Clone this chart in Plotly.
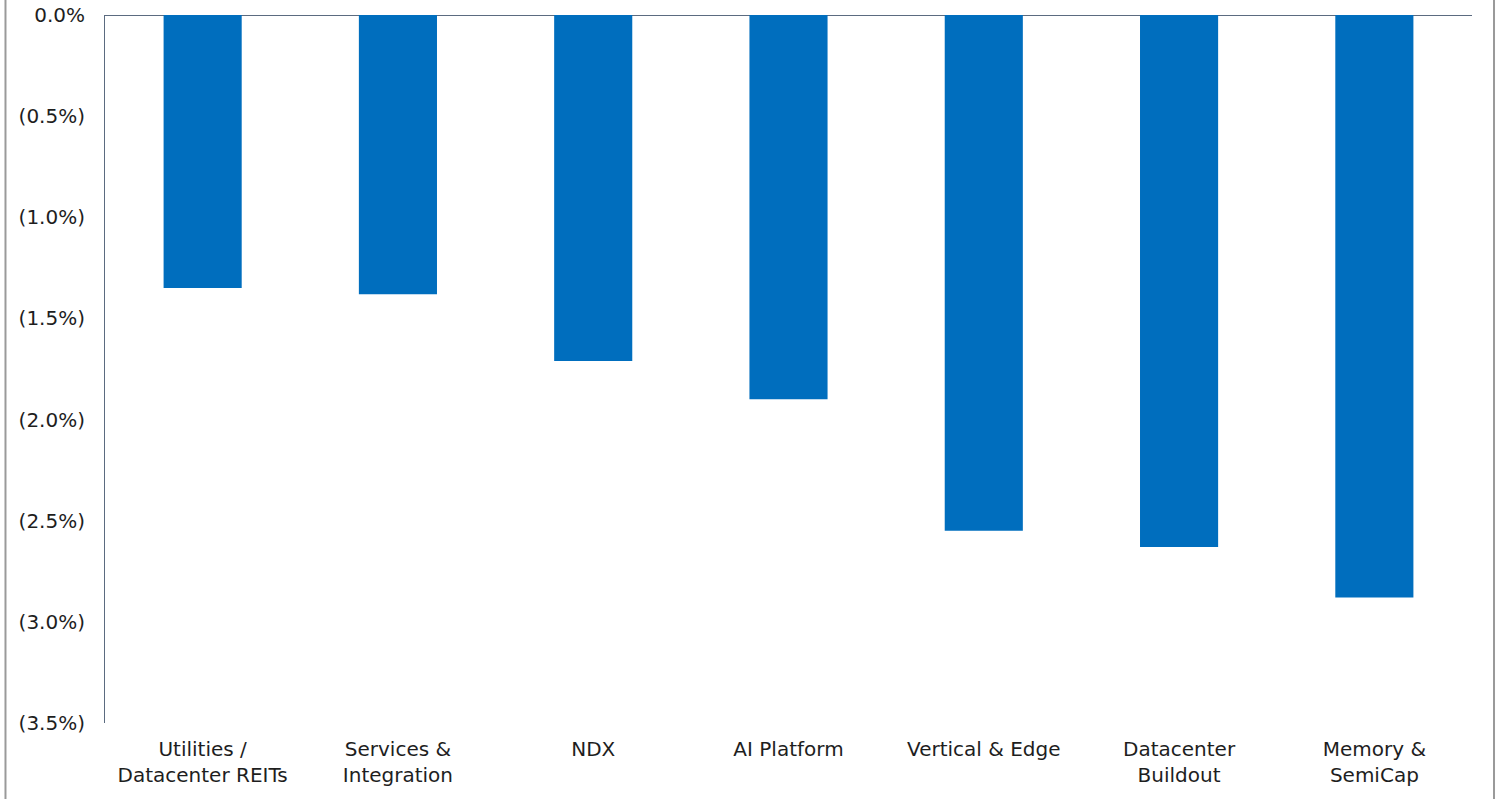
import plotly.graph_objects as go

# Categories and their returns (in percent)
categories = [
    "Utilities /<br>Datacenter REITs",
    "Services &<br>Integration",
    "NDX",
    "AI Platform",
    "Vertical & Edge",
    "Datacenter<br>Buildout",
    "Memory &<br>SemiCap",
]
returns_pct = [-1.35, -1.38, -1.71, -1.90, -2.55, -2.63, -2.88]

# Y-axis ticks, losses shown in parentheses
tick_values = [0.0, -0.5, -1.0, -1.5, -2.0, -2.5, -3.0, -3.5]
tick_labels = ["0.0%", "(0.5%)", "(1.0%)", "(1.5%)", "(2.0%)", "(2.5%)", "(3.0%)", "(3.5%)"]

BAR_COLOR = "#006EBE"
AXIS_COLOR = "#5B6B80"
TEXT_COLOR = "#1e1e1e"
FONT = "DejaVu Sans, sans-serif"
FONT_SIZE = 20

fig = go.Figure(
    go.Bar(
        x=categories,
        y=returns_pct,
        marker=dict(color=BAR_COLOR, line=dict(width=0)),
        hoverinfo="x+y",
    )
)

fig.update_layout(
    width=1499,
    height=799,
    margin=dict(l=105, r=27, t=15, b=76, autoexpand=False),
    paper_bgcolor="white",
    plot_bgcolor="white",
    bargap=0.6,
    showlegend=False,
    font=dict(family=FONT, size=FONT_SIZE, color=TEXT_COLOR),
    shapes=[
        # thin frame lines at the left and right edges of the page
        dict(type="line", xref="paper", yref="paper", x0=-0.0728, x1=-0.0728, y0=-0.2, y1=1.1,
             line=dict(color="#9a9a9a", width=2)),
        dict(type="line", xref="paper", yref="paper", x0=1.0161, x1=1.0161, y0=-0.2, y1=1.1,
             line=dict(color="#9a9a9a", width=2)),
    ],
)

fig.update_xaxes(
    showline=False,
    showgrid=False,
    ticks="",
    ticklabelstandoff=12,
    tickfont=dict(family=FONT, size=FONT_SIZE, color=TEXT_COLOR),
    automargin=False,
    fixedrange=True,
)

fig.update_yaxes(
    range=[-3.5, 0],
    tickvals=tick_values,
    ticktext=tick_labels,
    showgrid=False,
    showline=True,
    linecolor=AXIS_COLOR,
    linewidth=1,
    zeroline=True,
    zerolinecolor=AXIS_COLOR,
    zerolinewidth=1,
    ticks="",
    ticklabelstandoff=15,
    tickfont=dict(family=FONT, size=FONT_SIZE, color=TEXT_COLOR),
    automargin=False,
    fixedrange=True,
)

fig.write_html("out.html")
